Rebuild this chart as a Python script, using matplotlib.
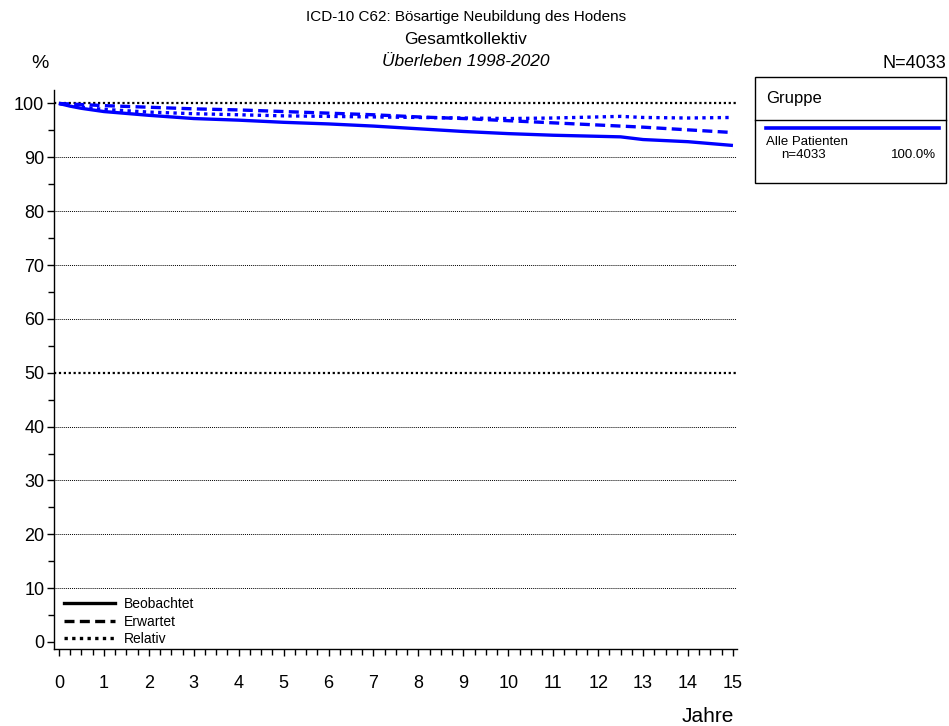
import numpy as np
import matplotlib.pyplot as plt
from matplotlib.patches import Rectangle
from matplotlib.lines import Line2D

plt.rcParams['font.family'] = ['Liberation Sans', 'DejaVu Sans']

# Jahre nach Diagnose
jahre = [0, 0.25, 0.5, 1, 2, 3, 4, 5, 6, 7, 8, 9, 10, 11, 12, 12.5, 13, 14, 15]
# Ueberleben in %
beobachtet = [100, 99.5, 99.1, 98.5, 97.8, 97.2, 96.9, 96.5, 96.2, 95.8, 95.3, 94.8,
              94.4, 94.1, 93.9, 93.8, 93.3, 92.9, 92.2]
erwartet = [100, 99.9, 99.8, 99.6, 99.3, 99.0, 98.8, 98.5, 98.2, 97.9, 97.5, 97.2,
            96.8, 96.4, 96.0, 95.8, 95.6, 95.1, 94.6]
relativ = [100, 99.6, 99.3, 98.9, 98.4, 98.1, 97.9, 97.7, 97.6, 97.5, 97.4, 97.3,
           97.2, 97.3, 97.5, 97.6, 97.4, 97.3, 97.4]

W, H = 949, 726
fig = plt.figure(figsize=(W/100, H/100), dpi=100)
ax = fig.add_axes([54/W, 1-649/H, (737-54)/W, (649-90)/H])

blau = '#0000ff'
ax.plot(jahre, beobachtet, color=blau, lw=2.4, solid_capstyle='butt', zorder=3)
ax.plot(jahre, erwartet, color=blau, lw=2.4, ls=(0, (3, 1.6)), zorder=3)
ax.plot(jahre, relativ, color=blau, lw=2.4, ls=(0, (1, 1.3)), zorder=3)

# Gitterlinien
for g in range(10, 101, 10):
    if g in (50, 100):
        ax.axhline(g, color='black', lw=1.6, ls=(0, (1, 1.2)), zorder=1)
    else:
        ax.axhline(g, color='black', lw=0.7, ls=(0, (1, 1)), zorder=1)

ax.set_xlim(-0.11, 15.09)
ax.set_ylim(-1.3, 102.5)
ax.set_xticks(range(0, 16))
ax.set_xticks(np.arange(0, 15.01, 0.25), minor=True)
ax.set_yticks(range(0, 101, 10))
ax.set_yticks(range(5, 100, 10), minor=True)
ax.tick_params(axis='both', which='major', labelsize=13, length=5, width=1, direction='out')
ax.tick_params(axis='both', which='minor', length=4, width=1, direction='out')
ax.tick_params(axis='x', pad=14)
ax.tick_params(axis='y', pad=2)
for s in ['top', 'right']:
    ax.spines[s].set_visible(False)
ax.spines['left'].set_linewidth(1)
ax.spines['bottom'].set_linewidth(1)

# Linienlegende
h = [Line2D([], [], color='black', lw=2.4),
     Line2D([], [], color='black', lw=2.4, ls=(0, (3, 1.6))),
     Line2D([], [], color='black', lw=2.4, ls=(0, (1, 1.3)))]
ax.legend(h, ['Beobachtet', 'Erwartet', 'Relativ'], loc='lower left',
          bbox_to_anchor=(0.0, -0.012), frameon=False, fontsize=10,
          handlelength=3.7, handletextpad=0.6, labelspacing=0.25,
          borderaxespad=0.3)

# Titel
fig.text(466/W, 1-17/H, 'ICD-10 C62: Bösartige Neubildung des Hodens', ha='center', va='center', fontsize=11)
fig.text(466/W, 1-40/H, 'Gesamtkollektiv', ha='center', va='center', fontsize=12.5)
fig.text(466/W, 1-62/H, 'Überleben 1998-2020', ha='center', va='center', fontsize=12.5, style='italic')
fig.text(40/W, 1-64/H, '%', ha='center', va='center', fontsize=14)
fig.text(946/W, 1-63/H, 'N=4033', ha='right', va='center', fontsize=13)
fig.text(734/W, 1-716/H, 'Jahre', ha='right', va='center', fontsize=15)

# Gruppenlegende
fig.add_artist(Rectangle((755/W, 1-183/H), (946-755)/W, (183-77)/H, transform=fig.transFigure,
                         fill=False, ec='black', lw=1))
fig.add_artist(Line2D([755/W, 946/W], [1-120/H, 1-120/H], transform=fig.transFigure, color='black', lw=1))
fig.text(766/W, 1-99/H, 'Gruppe', ha='left', va='center', fontsize=12)
fig.add_artist(Line2D([766/W, 939/W], [1-128/H, 1-128/H], transform=fig.transFigure, color=blau, lw=2.6))
fig.text(766/W, 1-142/H, 'Alle Patienten', ha='left', va='center', fontsize=9.5)
fig.text(781/W, 1-155/H, 'n=4033', ha='left', va='center', fontsize=9.5)
fig.text(936/W, 1-155/H, '100.0%', ha='right', va='center', fontsize=9.5)

fig.savefig('out.png', dpi=100)
